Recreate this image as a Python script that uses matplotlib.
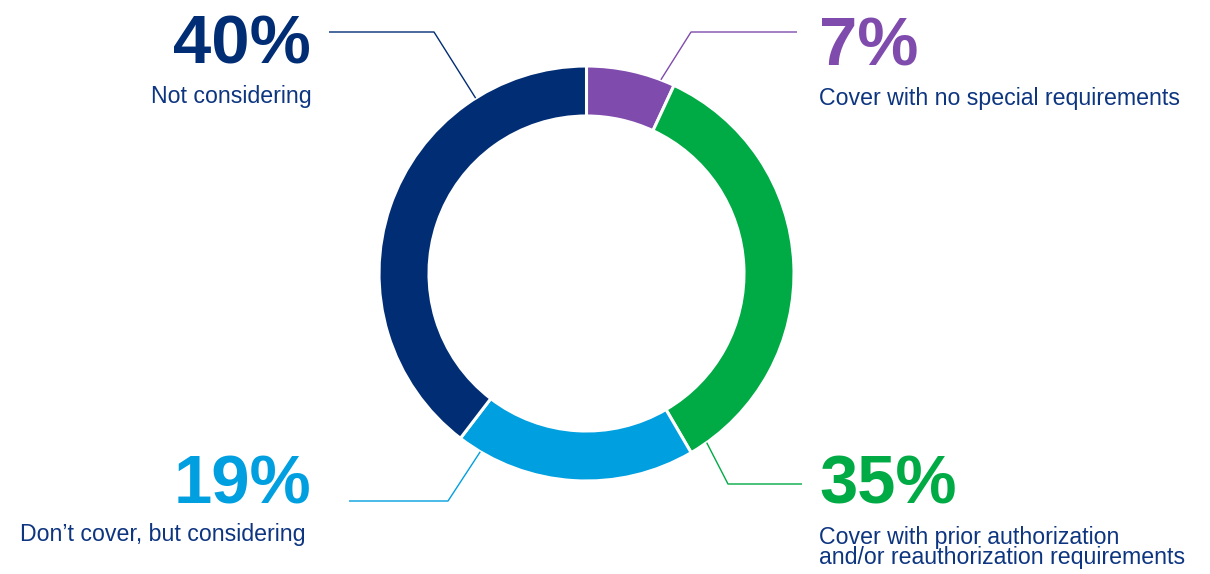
import numpy as np
import matplotlib.pyplot as plt

plt.rcParams['font.family'] = ['Liberation Sans', 'DejaVu Sans']

# Survey shares, clockwise from 12 o'clock
values = [7, 35, 19, 40]
pct_labels = ['7%', '35%', '19%', '40%']
descriptions = [
    'Cover with no special requirements',
    'Cover with prior authorization\nand/or reauthorization requirements',
    'Don\u2019t cover, but considering',
    'Not considering',
]
colors = ['#7f4bad', '#00aa44', '#009fe0', '#012d74']
text_navy = '#0d3580'

W, H = 1210, 574
fig = plt.figure(figsize=(W / 100, H / 100), dpi=100)
ax = fig.add_axes([0, 0, 1, 1])

cx, cy = 586.5, H - 273.5
r_out, ring = 207.5, 50

ax.pie(values, colors=colors, startangle=90, counterclock=False,
       radius=r_out, center=(cx, cy), frame=True,
       wedgeprops=dict(width=ring, edgecolor='white', linewidth=2.2))
ax.set_xlim(0, W)
ax.set_ylim(0, H)
ax.axis('off')

# leader layout: angle on the ring, elbow point, end point (pixels from top)
leaders = [
    (69.0, (691, 32), (797, 32)),
    (-54.6, (728, 484), (802, 484)),
    (-120.8, (448, 501), (349, 501)),
    (122.3, (434, 32), (329, 32)),
]
for (ang, elbow, end), c in zip(leaders, colors):
    a = np.deg2rad(ang)
    x0, y0 = cx + r_out * np.cos(a), cy + r_out * np.sin(a)
    ax.plot([x0, elbow[0], end[0]], [y0, H - elbow[1], H - end[1]],
            color=c, lw=1.0, solid_capstyle='butt')

# label anchors: x of percent, x of text, alignment,
# baseline of percent, baseline of last text line (pixels from top)
label_pos = [
    (819, 819, 'left', 65, 105),
    (819, 819, 'left', 503, 564),
    (311, 306, 'right', 503, 541),
    (311, 312, 'right', 64, 103),
]
for (xp, xt, ha, yb, yt), pct, desc, c in zip(label_pos, pct_labels,
                                              descriptions, colors):
    ax.text(xp, H - yb, pct, ha=ha, va='baseline', fontsize=49.5,
            fontweight='bold', color=c)
    ax.text(xt, H - yt, desc, ha=ha, va='baseline', fontsize=16.7,
            color=text_navy, linespacing=0.86, multialignment='left')

fig.savefig('out.png', dpi=100, facecolor='white')
